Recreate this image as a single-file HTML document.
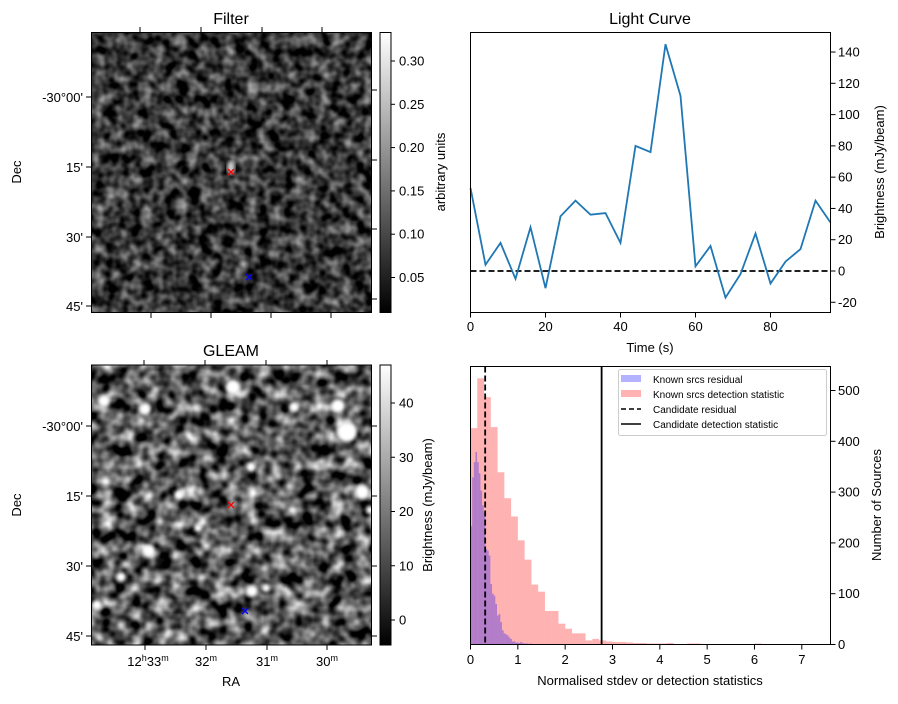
<!DOCTYPE html>
<html><head><meta charset="utf-8">
<style>
body{margin:0;background:#fff;}
svg text{font-family:"Liberation Sans","DejaVu Sans",sans-serif;fill:#000;}
</style></head>
<body>
<svg id="fig" width="898" height="699" viewBox="0 0 898 699" xmlns="http://www.w3.org/2000/svg">
<defs>
<filter id="nf" x="0" y="0" width="100%" height="100%" color-interpolation-filters="sRGB">
<feTurbulence type="fractalNoise" baseFrequency="0.085" numOctaves="2" seed="3"/>
<feColorMatrix type="matrix" values="1.1 0 0 0 -0.33  1.1 0 0 0 -0.33  1.1 0 0 0 -0.33  0 0 0 0 1"/>
</filter>
<filter id="ng" x="0" y="0" width="100%" height="100%" color-interpolation-filters="sRGB">
<feTurbulence type="fractalNoise" baseFrequency="0.07" numOctaves="2" seed="11"/>
<feColorMatrix type="matrix" values="1.7 0 0 0 -0.5  1.7 0 0 0 -0.5  1.7 0 0 0 -0.5  0 0 0 0 1"/>
</filter>
<filter id="bl"><feGaussianBlur stdDeviation="1.8"/></filter>
<linearGradient id="cb" x1="0" y1="1" x2="0" y2="0"><stop offset="0" stop-color="#000"/><stop offset="1" stop-color="#fff"/></linearGradient>
<clipPath id="gclip"><rect x="91.5" y="365" width="280" height="280"/></clipPath>
</defs>

<!-- Filter panel -->
<g>
<text x="231" y="24" font-size="16" text-anchor="middle">Filter</text>
<rect x="91.5" y="32.5" width="280" height="280" filter="url(#nf)"/>
<ellipse cx="231" cy="168" rx="4" ry="7" fill="#ccc" filter="url(#bl)"/>
<rect x="91.5" y="32.5" width="280" height="280" fill="none" stroke="#000" stroke-width="1"/>
<g stroke="#000" stroke-width="1">
<path d="M140,32v-5M201,32v-5M262,32v-5M322,32v-5"/>
<path d="M151,313v5M211,313v5M271,313v5M331,313v5"/>
<path d="M91,97h-5M91,167h-5M91,237h-5M91,306h-5"/>
<path d="M372,90h5M372,160h5M372,229h5M372,299h5"/>
</g>
<g font-size="13" text-anchor="end">
<text x="83" y="102">-30°00'</text><text x="83" y="172">15'</text><text x="83" y="242">30'</text><text x="83" y="311">45'</text>
</g>
<text transform="translate(21,172) rotate(-90)" font-size="13" text-anchor="middle">Dec</text>
<path d="M228,169l6,6M234,169l-6,6" stroke="#f00" stroke-width="1.3"/>
<path d="M246,274l6,6M252,274l-6,6" stroke="#00f" stroke-width="1.3"/>
<rect x="380" y="32.5" width="11" height="280" fill="url(#cb)" stroke="#000" stroke-width="1"/>
<g id="fcbt"></g>
<text transform="translate(445,172) rotate(-90)" font-size="13" text-anchor="middle">arbitrary units</text>
</g>

<!-- GLEAM panel -->
<g>
<text x="231" y="356" font-size="16" text-anchor="middle">GLEAM</text>
<rect x="91.5" y="365" width="280" height="280" filter="url(#ng)"/>
<g clip-path="url(#gclip)" fill="#fff" filter="url(#bl)" id="blobs"></g>
<rect x="91.5" y="365" width="280" height="280" fill="none" stroke="#000" stroke-width="1"/>
<g stroke="#000" stroke-width="1">
<path d="M144,365v-5M205,365v-5M266,365v-5M327,365v-5"/>
<path d="M145,645v5M206,645v5M267,645v5M327,645v5"/>
<path d="M91,426h-5M91,496h-5M91,566h-5M91,636h-5"/>
<path d="M372,426h5M372,496h5M372,566h5M372,636h5"/>
</g>
<g font-size="13" text-anchor="end">
<text x="83" y="431">-30°00'</text><text x="83" y="501">15'</text><text x="83" y="571">30'</text><text x="83" y="641">45'</text>
</g>
<g font-size="13" text-anchor="middle">
<text x="148" y="666">12<tspan font-size="9" dy="-5">h</tspan><tspan dy="5">33</tspan><tspan font-size="9" dy="-5">m</tspan></text>
<text x="206" y="666">32<tspan font-size="9" dy="-5">m</tspan></text>
<text x="267" y="666">31<tspan font-size="9" dy="-5">m</tspan></text>
<text x="327" y="666">30<tspan font-size="9" dy="-5">m</tspan></text>
</g>
<text x="231" y="686" font-size="13" text-anchor="middle">RA</text>
<text transform="translate(21,505) rotate(-90)" font-size="13" text-anchor="middle">Dec</text>
<path d="M228,502l6,6M234,502l-6,6" stroke="#f00" stroke-width="1.3"/>
<path d="M242,608l6,6M248,608l-6,6" stroke="#00f" stroke-width="1.3"/>
<rect x="380" y="365" width="11" height="280" fill="url(#cb)" stroke="#000" stroke-width="1"/>
<g id="gcbt"></g>
<text transform="translate(432,505) rotate(-90)" font-size="13" text-anchor="middle">Brightness (mJy/beam)</text>
</g>

<!-- Light curve -->
<g>
<text x="650" y="24" font-size="16" text-anchor="middle">Light Curve</text>
<g id="lc"></g>
<rect x="470.5" y="32.5" width="360" height="280" fill="none" stroke="#000" stroke-width="1"/>
<text x="650" y="352" font-size="13" text-anchor="middle">Time (s)</text>
<text transform="translate(884,172) rotate(-90)" font-size="13" text-anchor="middle">Brightness (mJy/beam)</text>
</g>

<!-- Histogram -->
<g>
<g id="hist"></g>
<rect x="470.5" y="366.5" width="360" height="278" fill="none" stroke="#000" stroke-width="1"/>
<text x="650" y="685" font-size="13" text-anchor="middle">Normalised stdev or detection statistics</text>
<text transform="translate(881,505) rotate(-90)" font-size="13" text-anchor="middle">Number of Sources</text>
<g>
<rect x="618.5" y="369.5" width="208" height="66" rx="2" fill="#fff" fill-opacity="0.8" stroke="#ccc"/>
<rect x="621" y="375" width="20" height="7" fill="rgba(0,0,255,0.3)"/>
<text x="653" y="383" font-size="10">Known srcs residual</text>
<rect x="621" y="390" width="20" height="7" fill="rgba(255,0,0,0.3)"/>
<text x="653" y="398" font-size="10">Known srcs detection statistic</text>
<path d="M621,409h20" stroke="#000" stroke-width="1.5" stroke-dasharray="5,3"/>
<text x="653" y="413" font-size="10">Candidate residual</text>
<path d="M621,424h20" stroke="#000" stroke-width="1.5"/>
<text x="653" y="428" font-size="10">Candidate detection statistic</text>
</g>
</g>
</svg>
<script>
const NS="http://www.w3.org/2000/svg";
function mk(tag,attrs,parent,txt){const e=document.createElementNS(NS,tag);for(const k in attrs)e.setAttribute(k,attrs[k]);if(txt!==undefined)e.textContent=txt;parent.appendChild(e);return e;}

// ---- light curve data ----
const lcTimes=[0,4,8,12,16,20,24,28,32,36,40,44,48,52,56,60,64,68,72,76,80,84,88,92,96];
const lcFlux=[53,4,18,-5,28,-11,35,45,36,37,18,80,76,145,112,3,16,-17,-2,24,-8,6,14,45,31];
const lcXTicks=[0,20,40,60,80];
const lcYTicks=[-20,0,20,40,60,80,100,120,140];

// ---- histogram data ----
const detWidth=0.143;
const detCounts=[426,524,487,428,339,288,252,205,167,118,104,66,66,41,31,22,22,8,11,8,6,5,5,4,3,3,2,2,2,3,1,1,2,2,1,1,1,1,1,1,0,0,2,1,0,0,1,0,1,1,1,0];
const resWidth=0.035;
const resCounts=[233,329,359,379,359,337,303,274,260,188,185,175,119,100,96,80,57,60,44,28,22,20,18,14,11,6,6,4,4,3,5,3,2,2,2,1,2,1,1,1,1,0,1,1,1,0,1];
const candResidual=[0.31];
const candDetection=[2.77];
const hXTicks=[0,1,2,3,4,5,6,7];
const hYTicks=[0,100,200,300,400,500];

// ---- colorbar ticks ----
const filterCbTicks=[0.05,0.10,0.15,0.20,0.25,0.30];
const gleamCbTicks=[0,10,20,30,40];

// ---- GLEAM bright sources [x,y,r] in image pixels ----
const gleamSources=[[233,387,7],[104,401,6],[145,409,6],[294,407,5],[338,406,7],[347,432,10],[251,467,5],[179,495,5],[362,492,7],[149,551,6],[198,528,4],[121,577,5],[97,605,5],[252,591,6],[266,588,4],[370,510,4]];

const lcX=t=>470.5+t*3.75, lcY=v=>271-v*1.564;
const hX=v=>470.5+v*47.33, hY=c=>644.5-c*0.508;
const fcbY=v=>320.8-v*(216.5/0.25);
const gcbY=v=>620-v*5.425;

// light curve
const lc=document.getElementById('lc');
lcXTicks.forEach(t=>{mk('path',{d:`M${lcX(t)},312.5v5`,stroke:'#000'},lc);const tx=mk('text',{x:lcX(t),y:331,'font-size':13,'text-anchor':'middle'},lc,t);

});
lcYTicks.forEach(v=>{mk('path',{d:`M830.5,${lcY(v)}h5`,stroke:'#000'},lc);const tx=mk('text',{x:838,y:lcY(v)+4.5,'font-size':13},lc,v);

});
const zl=mk('path',{d:`M470.5,${lcY(0)}H830.5`,stroke:'#000','stroke-width':1.8,'stroke-dasharray':'6,3'},lc);


const line=mk('polyline',{points:lcTimes.map((t,i)=>lcX(t)+','+lcY(lcFlux[i])).join(' '),fill:'none',stroke:'#1f77b4','stroke-width':1.8},lc);



// histogram
const h=document.getElementById('hist');
detCounts.forEach((c,i)=>{if(c<=0)return;const r=mk('rect',{x:hX(i*detWidth),y:hY(c),width:hX((i+1)*detWidth)-hX(i*detWidth),height:c*0.508,fill:'rgba(255,0,0,0.3)'},h);

});
resCounts.forEach((c,i)=>{if(c<=0)return;const r=mk('rect',{x:hX(i*resWidth),y:hY(c),width:hX((i+1)*resWidth)-hX(i*resWidth),height:c*0.508,fill:'rgba(0,0,255,0.3)'},h);

});
const l1=mk('path',{d:`M${hX(candResidual[0])},366.5V644.5`,stroke:'#000','stroke-width':1.8,'stroke-dasharray':'6,3'},h);


const l2=mk('path',{d:`M${hX(candDetection[0])},366.5V644.5`,stroke:'#000','stroke-width':1.8},h);


hXTicks.forEach(t=>{mk('path',{d:`M${hX(t)},644.5v5`,stroke:'#000'},h);const tx=mk('text',{x:hX(t),y:664,'font-size':13,'text-anchor':'middle'},h,t);

});
hYTicks.forEach(v=>{mk('path',{d:`M830.5,${hY(v)}h5`,stroke:'#000'},h);const tx=mk('text',{x:838,y:hY(v)+4.5,'font-size':13},h,v);

});

// colorbars
const fc=document.getElementById('fcbt');
filterCbTicks.forEach(v=>{mk('path',{d:`M391,${fcbY(v)}h4`,stroke:'#000'},fc);const tx=mk('text',{x:399,y:fcbY(v)+4.5,'font-size':13},fc,v.toFixed(2));

});
const gc=document.getElementById('gcbt');
gleamCbTicks.forEach(v=>{mk('path',{d:`M391,${gcbY(v)}h4`,stroke:'#000'},gc);const tx=mk('text',{x:399,y:gcbY(v)+4.5,'font-size':13},gc,v);

});

// blobs
const bl=document.getElementById('blobs');
gleamSources.forEach(s=>{const c=mk('circle',{cx:s[0],cy:s[1],r:s[2]},bl);

});
</script>
</body></html>
